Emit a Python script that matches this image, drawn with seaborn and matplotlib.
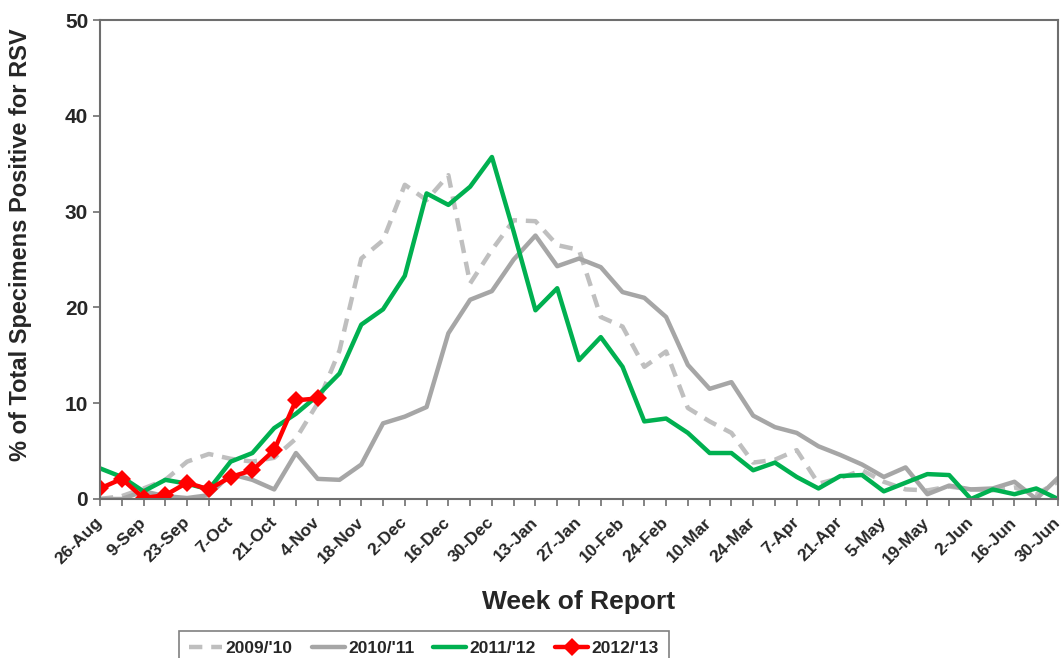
import matplotlib
matplotlib.use("Agg")
import matplotlib.pyplot as plt
import seaborn as sns

# weekly reporting dates, season runs late Aug -> end of June
weeks = ["26-Aug", "2-Sep", "9-Sep", "16-Sep", "23-Sep", "30-Sep", "7-Oct", "14-Oct",
         "21-Oct", "28-Oct", "4-Nov", "11-Nov", "18-Nov", "25-Nov", "2-Dec", "9-Dec",
         "16-Dec", "23-Dec", "30-Dec", "6-Jan", "13-Jan", "20-Jan", "27-Jan", "3-Feb",
         "10-Feb", "17-Feb", "24-Feb", "3-Mar", "10-Mar", "17-Mar", "24-Mar", "31-Mar",
         "7-Apr", "14-Apr", "21-Apr", "28-Apr", "5-May", "12-May", "19-May", "26-May",
         "2-Jun", "9-Jun", "16-Jun", "23-Jun", "30-Jun"]

# % positive for RSV
s0910 = [0.0, 0.3, 1.1, 2.0, 3.9, 4.7, 4.2, 3.9, 4.3, 6.3, 10.0, 15.5, 25.1, 27.0, 32.8,
         31.2, 33.8, 22.5, 26.0, 29.1, 29.0, 26.5, 26.0, 19.0, 18.0, 13.8, 15.4, 9.5, 8.1,
         6.9, 3.8, 4.1, 5.1, 1.6, 2.2, 3.0, 1.8, 1.0, 0.9, 1.3, 1.0, 0.9, 1.2, 0.5, 1.8]
s1011 = [0.0, 0.0, 0.8, 0.3, 0.1, 0.4, 2.6, 2.0, 1.0, 4.8, 2.1, 2.0, 3.6, 7.9, 8.6,
         9.6, 17.3, 20.8, 21.7, 25.0, 27.5, 24.3, 25.1, 24.2, 21.6, 21.0, 19.0, 14.0, 11.5,
         12.2, 8.7, 7.5, 6.9, 5.5, 4.6, 3.6, 2.3, 3.3, 0.5, 1.4, 1.0, 1.1, 1.8, 0.0, 2.2]
s1112 = [3.2, 2.3, 0.8, 2.0, 1.6, 1.0, 3.9, 4.8, 7.4, 8.9, 10.8, 13.1, 18.2, 19.8, 23.3,
         31.9, 30.7, 32.6, 35.7, 27.9, 19.7, 22.0, 14.5, 16.9, 13.8, 8.1, 8.4, 6.9, 4.8,
         4.8, 3.0, 3.8, 2.3, 1.1, 2.4, 2.5, 0.8, 1.7, 2.6, 2.5, 0.0, 1.0, 0.5, 1.1, 0.0]
s1213 = [1.1, 2.1, 0.1, 0.4, 1.7, 1.0, 2.3, 3.0, 5.1, 10.3, 10.5]

sns.set_style("ticks")
plt.rcParams['font.family'] = ['Liberation Sans', 'DejaVu Sans']
plt.rcParams['font.weight'] = 'bold'

fig = plt.figure(figsize=(10.63, 6.58), dpi=100)
ax = fig.add_axes([100/1063, 1 - 499/658, 958/1063, 479/658])

x = list(range(len(weeks)))
sns.lineplot(x=x, y=s0910, ax=ax, color='#BFBFBF', lw=3.2, linestyle=(0, (3, 2)),
             label="2009/'10")
sns.lineplot(x=x, y=s1011, ax=ax, color='#A6A6A6', lw=3.2, label="2010/'11")
sns.lineplot(x=x, y=s1112, ax=ax, color='#00B050', lw=3.2, label="2011/'12")
sns.lineplot(x=x[:len(s1213)], y=s1213, ax=ax, color='#FF0000', lw=3.2, marker='D',
             markersize=9, markeredgewidth=0, label="2012/'13")

ax.set_xlim(0, len(weeks) - 1)
ax.set_ylim(0, 50)
ax.set_yticks(range(0, 51, 10))
ax.set_xticks(x)
# anchor at right-centre so each rotated label ends at its tick
ax.set_xticklabels([w if i % 2 == 0 else '' for i, w in enumerate(weeks)],
                   rotation=45, ha='right', va='center', rotation_mode='anchor',
                   fontsize=12.5, fontweight='bold')
ax.tick_params(axis='y', labelsize=15, length=5, color='#6E6E6E', width=1.2)
ax.tick_params(axis='x', length=5, color='#6E6E6E', width=1.2, pad=10)

for sp in ax.spines.values():
    sp.set_color('#6E6E6E')
    sp.set_linewidth(1.5)

ax.set_ylabel('% of Total Specimens Positive for RSV', fontsize=17, fontweight='bold')
ax.yaxis.set_label_coords(-0.071, 0.53)
ax.set_xlabel('Week of Report', fontsize=19, fontweight='bold')
ax.xaxis.set_label_coords(0.5, -0.19)

handles, labels = ax.get_legend_handles_labels()
ax.get_legend().remove()
leg = fig.legend(handles, labels, loc='center', bbox_to_anchor=(424/1063, 1 - 648/658),
                 ncol=4, fontsize=12.5, frameon=True, fancybox=False,
                 edgecolor='#808080', framealpha=1, handlelength=1.9,
                 handletextpad=0.2, columnspacing=1.1, borderpad=0.55)
leg.get_frame().set_linewidth(1.2)

fig.savefig('out.png', dpi=100)
